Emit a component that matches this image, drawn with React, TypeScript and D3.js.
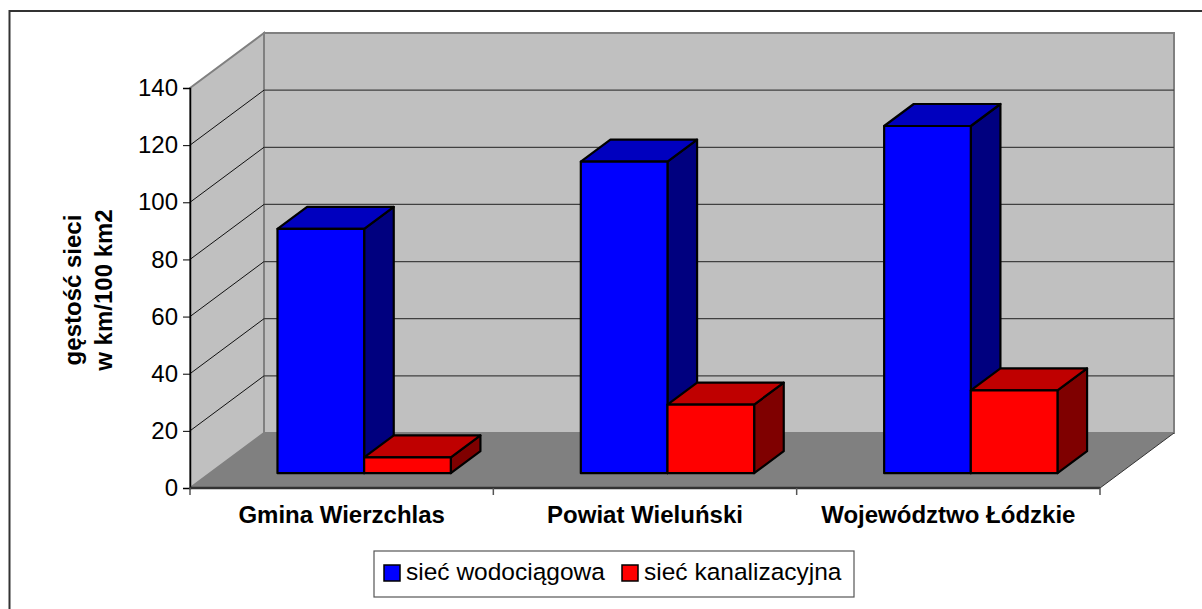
import React, { useRef, useEffect } from 'react';
import * as d3 from 'd3';

const categories = ['Gmina Wierzchlas', 'Powiat Wieluński', 'Województwo Łódzkie'];
const seriesNames = ['sieć wodociągowa', 'sieć kanalizacyjna'];
const water = [85.5, 109, 121.5];
const sewer = [5.5, 24, 29];
const yTicks = [0, 20, 40, 60, 80, 100, 120, 140];

const width = 1202;
const height = 609;
const depthX = 74;
const depthY = -55;
const font = '"Liberation Sans", Arial, sans-serif';

// front/back faces of the bars as a fraction of the floor depth
const barFront = 0.27;
const barBack = 0.67;
const barShift = 2.5;

const faces = [
  { front: '#0000ff', top: '#0000bf', side: '#00007f' },
  { front: '#ff0000', top: '#bf0000', side: '#7f0000' },
];

const App = () => {
  const svgRef = useRef<SVGSVGElement>(null);

  useEffect(() => {
    const svg = d3.select(svgRef.current);
    svg.selectAll('*').remove();

    const x = d3.scaleBand().domain(categories).range([190, 1100]);
    const inner = d3.scaleBand()
      .domain(seriesNames)
      .range([0, x.bandwidth()])
      .paddingInner(0)
      .paddingOuter(0.75);
    const y = d3.scaleLinear().domain([0, 140]).range([488, 88]);

    // projects a chart position at a given depth (0 front, 1 back)
    const px = (vx: number, z: number) => vx + depthX * z;
    const py = (vy: number, z: number) => vy + depthY * z;
    const line = d3.line();
    const poly = (pts: [number, number][]) => line(pts) + 'Z';

    // the frame runs off the right and bottom of the picture
    svg.append('rect')
      .attr('x', 9.5).attr('y', 11)
      .attr('width', 1300).attr('height', 700)
      .attr('fill', '#fff').attr('stroke', '#333').attr('stroke-width', 2);

    const [x0, x1] = x.range();
    const yTop = y(140);
    const yBase = y(0);

    // walls
    svg.append('path')
      .attr('d', poly([[px(x0, 1), py(yTop, 1)], [px(x1, 1), py(yTop, 1)], [px(x1, 1), py(yBase, 1)], [px(x0, 1), py(yBase, 1)]]))
      .attr('fill', '#c0c0c0').attr('stroke', '#808080').attr('stroke-width', 2);
    svg.append('path')
      .attr('d', poly([[x0, yTop], [px(x0, 1), py(yTop, 1)], [px(x0, 1), py(yBase, 1)], [x0, yBase]]))
      .attr('fill', '#c0c0c0').attr('stroke', '#808080').attr('stroke-width', 2);
    svg.append('path')
      .attr('d', poly([[x0, yBase], [px(x0, 1), py(yBase, 1)], [px(x1, 1), py(yBase, 1)], [x1, yBase]]))
      .attr('fill', '#808080');

    // gridlines
    yTicks.slice(1, -1).forEach(t => {
      svg.append('path')
        .attr('d', line([[x0, y(t)], [px(x0, 1), py(y(t), 1)]]))
        .attr('fill', 'none').attr('stroke', '#111').attr('stroke-width', 1);
      svg.append('path')
        .attr('d', line([[px(x0, 1), py(y(t), 1)], [px(x1, 1), py(y(t), 1)]]))
        .attr('fill', 'none').attr('stroke', '#404040').attr('stroke-width', 1.2);
    });
    svg.append('line')
      .attr('x1', x1).attr('y1', yBase).attr('x2', px(x1, 1)).attr('y2', py(yBase, 1))
      .attr('stroke', '#333').attr('stroke-width', 1);

    // axes
    const axisY = svg.append('g')
      .attr('transform', `translate(${x0},0)`)
      .call(d3.axisLeft(y).tickValues(yTicks).tickSize(7).tickPadding(5));
    axisY.selectAll('text').attr('font-size', 24).attr('font-family', font).attr('fill', '#000');
    axisY.select('.domain').attr('stroke', '#000').attr('stroke-width', 1.5);

    const axisX = svg.append('g')
      .attr('transform', `translate(0,${yBase})`);
    axisX.append('line')
      .attr('x1', x0).attr('x2', x1).attr('stroke', '#333').attr('stroke-width', 2.5);
    [x0, ...categories.map(c => x(c)! + x.bandwidth())].forEach(v => {
      axisX.append('line')
        .attr('x1', v).attr('x2', v).attr('y1', 0).attr('y2', 7)
        .attr('stroke', '#555').attr('stroke-width', 1.5);
    });
    categories.forEach(c => {
      axisX.append('text')
        .attr('x', x(c)! + x.bandwidth() / 2).attr('y', 35)
        .attr('text-anchor', 'middle')
        .attr('font-family', font).attr('font-size', 24).attr('font-weight', 'bold')
        .text(c);
    });

    // bars, painted back to front from left to right
    categories.forEach((c, i) => {
      [water, sewer].forEach((values, s) => {
        const left = x(c)! + inner(seriesNames[s])! + barShift;
        const right = left + inner.bandwidth();
        const top = y(values[i]);
        const g = svg.append('g')
          .attr('stroke', '#000').attr('stroke-width', 2.2).attr('stroke-linejoin', 'round');
        g.append('path')
          .attr('d', poly([[px(right, barFront), py(top, barFront)], [px(right, barBack), py(top, barBack)], [px(right, barBack), py(yBase, barBack)], [px(right, barFront), py(yBase, barFront)]]))
          .attr('fill', faces[s].side);
        g.append('path')
          .attr('d', poly([[px(left, barFront), py(top, barFront)], [px(left, barBack), py(top, barBack)], [px(right, barBack), py(top, barBack)], [px(right, barFront), py(top, barFront)]]))
          .attr('fill', faces[s].top);
        g.append('path')
          .attr('d', poly([[px(left, barFront), py(top, barFront)], [px(right, barFront), py(top, barFront)], [px(right, barFront), py(yBase, barFront)], [px(left, barFront), py(yBase, barFront)]]))
          .attr('fill', faces[s].front);
      });
    });

    // y axis title
    const title = svg.append('text')
      .attr('transform', 'translate(81,290) rotate(-90)')
      .attr('text-anchor', 'middle')
      .attr('font-family', font).attr('font-size', 24).attr('font-weight', 'bold');
    title.append('tspan').attr('x', 0).attr('y', 0).text('gęstość sieci');
    title.append('tspan').attr('x', 0).attr('y', 31).text('w km/100 km2');

    // legend
    const legend = svg.append('g');
    legend.append('rect')
      .attr('x', 374).attr('y', 551).attr('width', 480).attr('height', 46)
      .attr('fill', '#fff').attr('stroke', '#555').attr('stroke-width', 1.2);
    [384, 622].forEach((lx, s) => {
      legend.append('rect')
        .attr('x', lx).attr('y', 565).attr('width', 16).attr('height', 16)
        .attr('fill', faces[s].front).attr('stroke', '#000').attr('stroke-width', 1.5);
      legend.append('text')
        .attr('x', lx + 22).attr('y', 580)
        .attr('font-family', font).attr('font-size', 24.5)
        .text(seriesNames[s]);
    });
  }, []);

  return (
    <svg ref={svgRef} width={width} height={height} style={{ position: 'absolute', left: 0, top: 0 }}></svg>
  );
};

export default App;
